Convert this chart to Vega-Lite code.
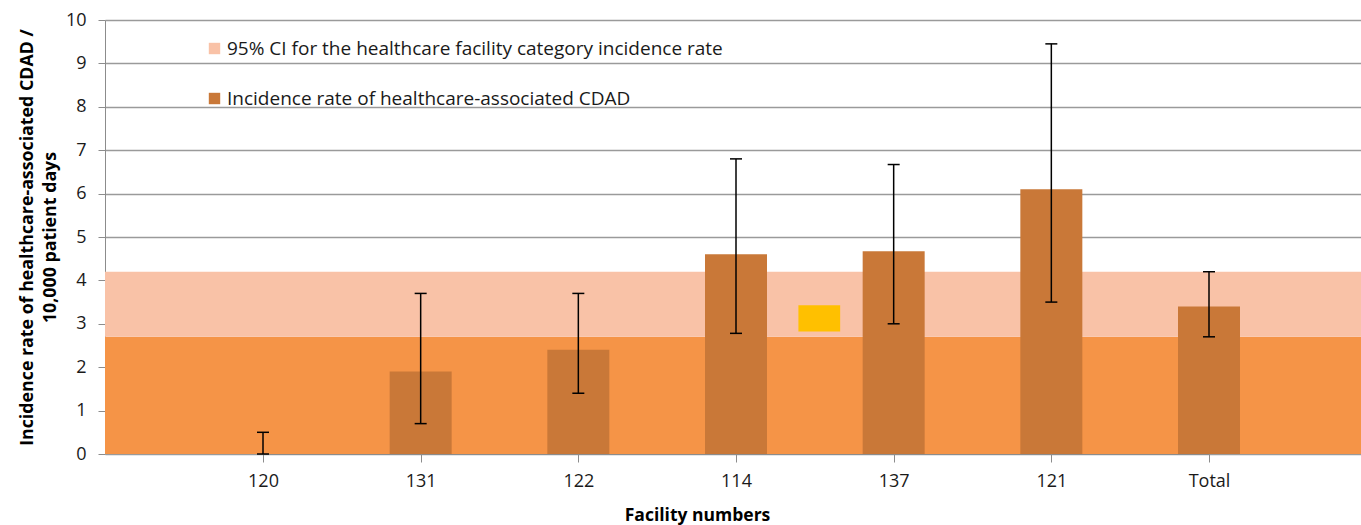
{
  "$schema": "https://vega.github.io/schema/vega-lite/v6.json",
  "autosize": "none",
  "width": 1256,
  "height": 434,
  "padding": {"left": 105, "top": 20, "right": 0, "bottom": 71},
  "background": "white",
  "config": {
    "font": "Open Sans",
    "view": {"stroke": null},
    "axis": {"labelFont": "Open Sans", "titleFont": "Open Sans", "labelColor": "#1a1a1a", "titleColor": "#000000"},
    "legend": {"labelFont": "Open Sans"}
  },
  "datasets": {
    "facilities": [
      {"facility": "120", "rate": 0, "lo": 0, "hi": 0.5, "series": "Incidence rate of healthcare-associated  CDAD"},
      {"facility": "131", "rate": 1.9, "lo": 0.7, "hi": 3.7, "series": "Incidence rate of healthcare-associated  CDAD"},
      {"facility": "122", "rate": 2.4, "lo": 1.4, "hi": 3.7, "series": "Incidence rate of healthcare-associated  CDAD"},
      {"facility": "114", "rate": 4.6, "lo": 2.78, "hi": 6.8, "series": "Incidence rate of healthcare-associated  CDAD"},
      {"facility": "137", "rate": 4.67, "lo": 3.0, "hi": 6.67, "series": "Incidence rate of healthcare-associated  CDAD"},
      {"facility": "121", "rate": 6.1, "lo": 3.5, "hi": 9.45, "series": "Incidence rate of healthcare-associated  CDAD"},
      {"facility": "Total", "rate": 3.4, "lo": 2.7, "hi": 4.2, "series": "Incidence rate of healthcare-associated  CDAD"}
    ],
    "ciband": [
      {"lo": 2.7, "hi": 4.2, "series": "95% CI for the healthcare facility category incidence rate"}
    ],
    "baseband": [
      {"lo": 0, "hi": 2.7}
    ],
    "marker": [
      {"x0": 3.4, "x1": 3.665, "y0": 2.82, "y1": 3.43}
    ]
  },
  "layer": [
    {
      "data": {"name": "baseband"},
      "mark": {"type": "rect", "color": "#F59447"},
      "encoding": {
        "y": {"field": "lo", "type": "quantitative", "scale": {"domain": [0, 10], "nice": false},
          "axis": {
            "values": [0, 1, 2, 3, 4, 5, 6, 7, 8, 9, 10],
            "labelFontSize": 18,
            "labelPadding": 12,
            "tickSize": 7,
            "tickColor": "#8c8c8c",
            "domainColor": "#8c8c8c",
            "gridColor": "#9a9a9a",
            "gridWidth": 1.3,
            "title": ["Incidence rate of healthcare-associated  CDAD /", "10,000 patient days"],
            "titleFontSize": 17.8,
            "titleFontWeight": "bold",
            "titleLineHeight": 23,
            "titlePadding": 6
          }},
        "y2": {"field": "hi"}
      }
    },
    {
      "data": {"name": "ciband"},
      "mark": {"type": "rect"},
      "encoding": {
        "y": {"field": "lo", "type": "quantitative"},
        "y2": {"field": "hi"},
        "color": {"field": "series", "type": "nominal",
          "scale": {"domain": ["95% CI for the healthcare facility category incidence rate", "Incidence rate of healthcare-associated  CDAD"], "range": ["#F9C2A7", "#C97838"]},
          "legend": {
            "orient": "none", "legendX": 100, "legendY": 19, "title": null,
            "symbolType": "square", "symbolSize": 130, "symbolStrokeWidth": 0, "symbolOpacity": 1,
            "labelFontSize": 19, "labelColor": "#1a1a1a", "labelOffset": 3, "rowPadding": 30, "labelLimit": 800
          }}
      }
    },
    {
      "data": {"name": "marker"},
      "mark": {"type": "rect", "color": "#FFC000"},
      "encoding": {
        "x": {"field": "x0", "type": "quantitative", "scale": {"domain": [-1, 6.97], "nice": false, "zero": false}, "axis": null},
        "x2": {"field": "x1"},
        "y": {"field": "y0", "type": "quantitative"},
        "y2": {"field": "y1"}
      }
    },
    {
      "data": {"name": "facilities"},
      "layer": [
        {
          "mark": {"type": "bar", "size": 62},
          "encoding": {
            "x": {"field": "facility", "type": "ordinal",
              "scale": {"type": "point", "domain": ["120", "131", "122", "114", "137", "121", "Total"], "range": [158, 1104], "padding": 0},
              "axis": {"labelAngle": 0, "labelFontSize": 18, "tickSize": 8, "labelPadding": 10, "tickColor": "#8c8c8c", "domainColor": "#8c8c8c", "grid": false,
                "title": "Facility numbers", "titleFontSize": 17.5, "titleFontWeight": "bold", "titleX": 592, "titleY": 52, "titleAlign": "center", "titleBaseline": "top"}},
            "y": {"field": "rate", "type": "quantitative"},
            "color": {"field": "series", "type": "nominal"}
          }
        },
        {
          "mark": {"type": "rule", "color": "#000000", "strokeWidth": 1.5},
          "encoding": {
            "x": {"field": "facility", "type": "ordinal"},
            "y": {"field": "lo", "type": "quantitative"},
            "y2": {"field": "hi"}
          }
        },
        {
          "mark": {"type": "tick", "color": "#000000", "size": 12, "thickness": 1.5, "opacity": 1},
          "encoding": {
            "x": {"field": "facility", "type": "ordinal"},
            "y": {"field": "hi", "type": "quantitative"}
          }
        },
        {
          "mark": {"type": "tick", "color": "#000000", "size": 12, "thickness": 1.5, "opacity": 1},
          "encoding": {
            "x": {"field": "facility", "type": "ordinal"},
            "y": {"field": "lo", "type": "quantitative"}
          }
        }
      ]
    }
  ],
  "resolve": {"scale": {"x": "independent"}, "axis": {"x": "independent"}}
}
